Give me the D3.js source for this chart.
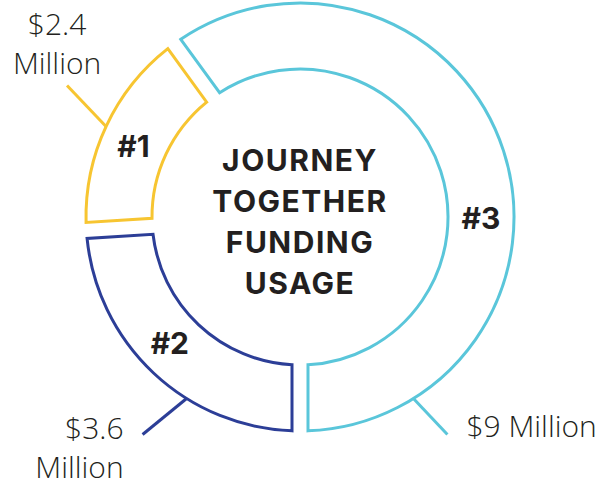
<!DOCTYPE html>
<html>
<head>
<meta charset="utf-8">
<script src="https://cdn.jsdelivr.net/npm/d3@7"></script>
<style>
	html, body { margin: 0; padding: 0; background: #fff; }
	#chart { width: 616px; height: 482px; }
	.rank { font-family: Inter, "Open Sans", sans-serif; font-weight: 700; fill: #231f20; }
	.amount { font-family: "Open Sans", sans-serif; font-weight: 300; fill: #231f20; }
</style>
</head>
<body>
<div id="chart"></div>
<script>
// DATA
var ranks = ['#1', '#2', '#3'];
var amounts = [2.4, 3.6, 9];
var amountLabels = [['$2.4', 'Million'], ['$3.6', 'Million'], ['$9 Million']];
var titleLines = ['JOURNEY', 'TOGETHER', 'FUNDING', 'USAGE'];
var colors = ['#f7c531', '#2c3e97', '#5ac6da'];

function drawChart(container){
	var containerRect = d3.select(container).node().getBoundingClientRect();
	var width = containerRect.width,
		height = containerRect.height;

	var cx = 300, cy = 217;
	var innerR = 148, outerR = 214;

	var svg = d3.select(container)
		.append('svg')
			.attr('width', width)
			.attr('height', height);

	var g = svg.append('g')
		.attr('transform', `translate(${cx},${cy})`);

	var data = ranks.map((r, i) => ({rank: r, value: amounts[i], label: amountLabels[i], color: colors[i]}));

	// biggest first, starting top-left so #1 ends up at 9 o'clock
	var pie = d3.pie()
		.value(d => d.value)
		.sortValues(d3.descending)
		.startAngle(-0.2 * Math.PI)
		.endAngle(1.8 * Math.PI);

	// padding only in the arc so boundaries stay proportional
	var arc = d3.arc()
		.innerRadius(innerR)
		.outerRadius(outerR)
		.padAngle(0.08)
		.padRadius(200);

	var arcs = pie(data);

	g.selectAll('path.slice')
		.data(arcs)
		.enter()
		.append('path')
			.attr('class', 'slice')
			.attr('d', arc)
			.style('fill', 'none')
			.style('stroke', d => d.data.color)
			.style('stroke-width', 3)
			.style('stroke-linejoin', 'miter');

	// rank label angles (degrees, clockwise from 12 o'clock)
	var rankAngle = {'#1': 293, '#2': 226, '#3': 90.5};
	var midR = (innerR + outerR) / 2;

	g.selectAll('text.rank')
		.data(arcs)
		.enter()
		.append('text')
			.attr('class', 'rank')
			.attr('text-anchor', 'middle')
			.attr('dy', '0.36em')
			.style('font-size', '30px')
			.attr('x', d => midR * Math.sin(rankAngle[d.data.rank] * Math.PI / 180))
			.attr('y', d => -midR * Math.cos(rankAngle[d.data.rank] * Math.PI / 180))
			.text(d => d.data.rank);

	// leader lines + amount labels
	var leaders = {
		'#1': {angle: 295, dx: -39, dy: -41, anchor: 'middle', tx: -10, ty: [-51, -12]},
		'#2': {angle: 212, dx: -44, dy: 36, anchor: 'end', tx: -19, ty: [5, 44]},
		'#3': {angle: 148, dx: 34, dy: 36, anchor: 'start', tx: 19, ty: [3]}
	};

	arcs.forEach(d => {
		var L = leaders[d.data.rank];
		var a = L.angle * Math.PI / 180;
		var x0 = outerR * Math.sin(a), y0 = -outerR * Math.cos(a);
		var x1 = x0 + L.dx, y1 = y0 + L.dy;

		g.append('line')
			.attr('x1', x0).attr('y1', y0)
			.attr('x2', x1).attr('y2', y1)
			.style('stroke', d.data.color)
			.style('stroke-width', 3);

		var t = g.append('text')
			.attr('class', 'amount')
			.attr('text-anchor', L.anchor)
			.style('font-size', '30px');

		d.data.label.forEach((line, i) => {
			t.append('tspan')
				.attr('x', x1 + L.tx)
				.attr('y', y1 + L.ty[i])
				.text(line);
		});
	});

	// centre title
	g.append('text')
		.attr('class', 'rank')
		.attr('text-anchor', 'middle')
		.style('font-size', '30px')
		.style('letter-spacing', '1.5px')
		.selectAll('tspan')
		.data(titleLines)
		.enter()
		.append('tspan')
			.attr('x', 0)
			.attr('y', (d, i) => -46 + i * 41)
			.text(d => d);
}

drawChart('#chart');
</script>
</body>
</html>
